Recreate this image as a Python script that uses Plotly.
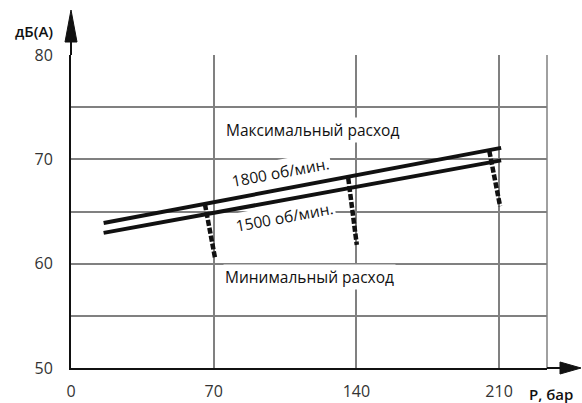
import plotly.graph_objects as go

# ---- data ----
pressure_ticks = [0, 70, 140, 210]
db_ticks = [50, 60, 70, 80]

line_x = [16, 211]
db_1800 = [63.9, 71.1]
db_1500 = [62.95, 69.9]

# dashed scatter markers below the curves (top point, bottom point)
drop_x = [[65.7, 70.6], [136.0, 140.2], [205.2, 210.5]]
drop_y = [[65.7, 60.6], [68.2, 61.8], [70.8, 65.5]]

labels = ["Максимальный расход", "1800 об/мин.", "1500 об/мин.", "Минимальный расход"]
label_x = [118.3, 103.0, 104.5, 116.8]
label_y = [72.8, 68.8, 64.5, 58.7]
label_angle = [0, -10.5, -10.5, 0]

FONT = "Open Sans"
INK = "#111111"
GRID = "#808080"

fig = go.Figure()

fig.add_trace(go.Scatter(x=line_x, y=db_1800, mode="lines",
                         line=dict(color=INK, width=4), showlegend=False, hoverinfo="skip"))
fig.add_trace(go.Scatter(x=line_x, y=db_1500, mode="lines",
                         line=dict(color=INK, width=4), showlegend=False, hoverinfo="skip"))
for xs, ys in zip(drop_x, drop_y):
    fig.add_trace(go.Scatter(x=xs, y=ys, mode="lines",
                             line=dict(color=INK, width=4.5, dash="6px,2px"),
                             showlegend=False, hoverinfo="skip"))

for t, x, y, a in zip(labels, label_x, label_y, label_angle):
    fig.add_annotation(x=x, y=y, xref="x", yref="y", text=t, showarrow=False,
                       textangle=a, bgcolor="white", borderpad=1,
                       font=dict(family=FONT, size=15.5, color=INK))

# axis titles
fig.add_annotation(x=-0.078, y=1.077, xref="paper", yref="paper", text="дБ(А)",
                   xanchor="center", yanchor="middle",
                   showarrow=False, font=dict(family=FONT, size=15, color=INK, weight=600))
fig.add_annotation(x=1.008, y=-0.083, xref="paper", yref="paper", text="P, бар",
                   xanchor="center", yanchor="middle",
                   showarrow=False, font=dict(family=FONT, size=15, color=INK, weight=600))

# right border
fig.add_shape(type="line", xref="paper", yref="paper", x0=1, x1=1, y0=0, y1=1,
              line=dict(color=GRID, width=1.5))
# axis extensions with arrowheads
fig.add_shape(type="line", xref="paper", yref="paper", xsizemode="pixel", ysizemode="pixel",
              xanchor=0, yanchor=1, x0=0, x1=0, y0=0, y1=16, line=dict(color=INK, width=2))
fig.add_shape(type="path", xref="paper", yref="paper", xsizemode="pixel", ysizemode="pixel",
              xanchor=0, yanchor=1, path="M -6,13 L 0,45 L 6,13 Z",
              fillcolor=INK, line=dict(color=INK, width=1))
fig.add_shape(type="line", xref="paper", yref="paper", xsizemode="pixel", ysizemode="pixel",
              xanchor=1, yanchor=0, x0=0, x1=16, y0=0, y1=0, line=dict(color=INK, width=2))
fig.add_shape(type="path", xref="paper", yref="paper", xsizemode="pixel", ysizemode="pixel",
              xanchor=1, yanchor=0, path="M 13,-6 L 34,0 L 13,6 Z",
              fillcolor=INK, line=dict(color=INK, width=1))

fig.update_layout(
    width=582, height=403,
    margin=dict(l=71, r=35, t=55, b=35, autoexpand=False),
    paper_bgcolor="white", plot_bgcolor="white",
    showlegend=False,
    font=dict(family=FONT, size=16, color="#333333"),
)
fig.update_xaxes(range=[0, 233.5], tickvals=pressure_ticks, showgrid=True,
                 gridcolor=GRID, gridwidth=1.5, zeroline=False, automargin=False,
                 showline=True, linecolor=INK, linewidth=2,
                 ticks="outside", ticklen=8, tickcolor="rgba(0,0,0,0)",
                 tickfont=dict(family=FONT, size=16, color="#333333"))
fig.update_yaxes(range=[50, 80], tickvals=db_ticks, showgrid=True,
                 gridcolor=GRID, gridwidth=1.5, zeroline=False, automargin=False,
                 minor=dict(dtick=5, showgrid=True, gridcolor=GRID, gridwidth=1.5),
                 showline=True, linecolor=INK, linewidth=2,
                 ticks="outside", ticklen=13, tickcolor="rgba(0,0,0,0)",
                 tickfont=dict(family=FONT, size=16, color="#333333"))

fig.write_html("out.html", config={"displayModeBar": False},
               post_script="document.body.style.margin='0';")
